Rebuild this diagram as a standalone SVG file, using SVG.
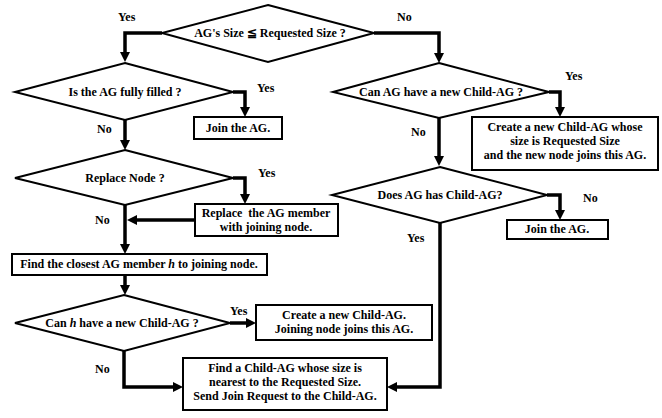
<svg xmlns="http://www.w3.org/2000/svg" width="662" height="418" viewBox="0 0 662 418">
<style>
text{font-family:"Liberation Serif","Times New Roman",serif;font-weight:bold;font-size:12px;fill:#000;text-anchor:middle}
.shape{fill:#fff;stroke:#000;stroke-width:2}
.conn{fill:none;stroke:#000;stroke-width:3.5}
.lbl{text-anchor:start}
</style>
<defs>
<marker id="arr" markerUnits="userSpaceOnUse" markerWidth="10" markerHeight="10" refX="4" refY="5" orient="auto">
<path d="M0,0 L10,5 L0,10 z" fill="#000"/>
</marker>
</defs>
<rect width="662" height="418" fill="#fff"/>
<g id="connectors">
<path class="conn" d="M162,33 H125 V56" marker-end="url(#arr)"/>
<path class="conn" d="M374,33 H439 V57" marker-end="url(#arr)"/>
<path class="conn" d="M233,92 H245 V111" marker-end="url(#arr)"/>
<path class="conn" d="M125,120 V144" marker-end="url(#arr)"/>
<path class="conn" d="M233,178 H245 V198" marker-end="url(#arr)"/>
<path class="conn" d="M195,220 H133" marker-end="url(#arr)"/>
<path class="conn" d="M125,205 V248" marker-end="url(#arr)"/>
<path class="conn" d="M125,275 V289" marker-end="url(#arr)"/>
<path class="conn" d="M230,323 H250" marker-end="url(#arr)"/>
<path class="conn" d="M124,351 V387 H177" marker-end="url(#arr)"/>
<path class="conn" d="M549,92 H560 V111" marker-end="url(#arr)"/>
<path class="conn" d="M439,118 V160" marker-end="url(#arr)"/>
<path class="conn" d="M547,195 H560 V214" marker-end="url(#arr)"/>
<path class="conn" d="M440,223 V387 H393" marker-end="url(#arr)"/>
</g>
<g id="d1"><polygon class="shape" points="268,5 374,33 268,62 162,33"/><text x="270" y="37">AG's Size ≦ Requested Size ?</text></g>
<g id="d2"><polygon class="shape" points="125,63 233,92 125,120 15,92"/><text x="125" y="96">Is the AG fully filled ?</text></g>
<g id="b1"><rect class="shape" x="194" y="117" width="88" height="22"/><text x="238" y="132">Join the AG.</text></g>
<g id="d3"><polygon class="shape" points="125,150 233,178 125,205 15,178"/><text x="125" y="182">Replace Node ?</text></g>
<g id="b2"><rect class="shape" x="195" y="204" width="143" height="32"/><text x="266" y="217" xml:space="preserve">Replace  the AG member</text><text x="266" y="231">with joining node.</text></g>
<g id="b3"><rect class="shape" x="12" y="254" width="255" height="21"/><text x="139" y="268">Find the closest AG member <tspan font-style="italic">h</tspan> to joining node.</text></g>
<g id="d6"><polygon class="shape" points="124,295 230,323 124,351 15,323"/><text x="122" y="327">Can <tspan font-style="italic">h</tspan> have a new Child-AG ?</text></g>
<g id="b4"><rect class="shape" x="256" y="305" width="176" height="35"/><text x="344" y="319">Create a new Child-AG.</text><text x="344" y="333">Joining node joins this AG.</text></g>
<g id="b5"><rect class="shape" x="183" y="358" width="204" height="52"/><text x="285" y="372">Find a Child-AG whose size is</text><text x="285" y="386">nearest to the Requested Size.</text><text x="285" y="400">Send Join Request to the Child-AG.</text></g>
<g id="d4"><polygon class="shape" points="439,63 549,92 439,118 333,92"/><text x="441" y="96">Can AG have a new Child-AG ?</text></g>
<g id="b6"><rect class="shape" x="472" y="117" width="186" height="53"/><text x="565" y="131">Create a new Child-AG whose</text><text x="565" y="145">size is Requested Size</text><text x="565" y="159">and the new node joins this AG.</text></g>
<g id="d5"><polygon class="shape" points="440,167 547,195 440,223 332,195"/><text x="440" y="199">Does AG has Child-AG?</text></g>
<g id="b7"><rect class="shape" x="507" y="220" width="101" height="19"/><text x="557" y="233">Join the AG.</text></g>
<g id="labels">
<text class="lbl" x="118" y="21">Yes</text>
<text class="lbl" x="397" y="21">No</text>
<text class="lbl" x="257" y="92">Yes</text>
<text class="lbl" x="97" y="133">No</text>
<text class="lbl" x="258" y="177">Yes</text>
<text class="lbl" x="95" y="224">No</text>
<text class="lbl" x="230" y="315">Yes</text>
<text class="lbl" x="95" y="373">No</text>
<text class="lbl" x="565" y="80">Yes</text>
<text class="lbl" x="411" y="136">No</text>
<text class="lbl" x="583" y="202">No</text>
<text class="lbl" x="407" y="242">Yes</text>
</g>
</svg>
